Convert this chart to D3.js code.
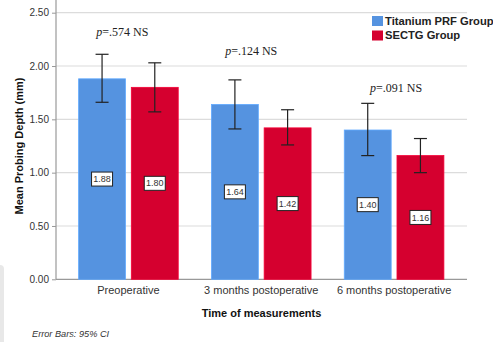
<!DOCTYPE html>
<html><head><meta charset="utf-8">
<script src="https://cdn.jsdelivr.net/npm/d3@7"></script>
<style>body{margin:0;background:#fff}svg{display:block}</style>
</head><body>
<svg id="c" width="493" height="342"></svg>
<script>
const categories = ["Preoperative", "3 months postoperative", "6 months postoperative"];
const seriesNames = ["Titanium PRF Group", "SECTG Group"];
const prfMean = [1.88, 1.64, 1.40];
const prfLow = [1.66, 1.41, 1.16];
const prfHigh = [2.11, 1.87, 1.65];
const sectgMean = [1.80, 1.42, 1.16];
const sectgLow = [1.57, 1.26, 1.00];
const sectgHigh = [2.03, 1.59, 1.32];
const pLabels = ["=.574 NS", "=.124 NS", "=.091 NS"];
const pValuesY = [2.32, 2.14, 1.80];
const yTicks = [0, 0.5, 1.0, 1.5, 2.0, 2.5];
const colors = ["#5593e0", "#d5002f"];

const svg = d3.select("#c");
const L = 56, R = 467, T = 0, B = 279.3;
const y = d3.scaleLinear().domain([0, 2.5]).range([B, 12.7]);
const x0 = d3.scaleBand().domain(categories).range([62, 460.5]).paddingInner(0.25).paddingOuter(0.125);
const x1 = d3.scaleBand().domain(seriesNames).range([0, x0.bandwidth()]).paddingInner(0.11);

// decorative light grey shape
svg.append("rect").attr("x", -8).attr("y", 265).attr("width", 12).attr("height", 90).attr("rx", 4).attr("fill", "#e8e8e8");

// gridlines
svg.append("g").selectAll("line").data(yTicks.filter(d => d > 0)).join("line")
  .attr("x1", L).attr("x2", R).attr("y1", d => y(d)).attr("y2", d => y(d))
  .attr("stroke", "#dcdcdc").attr("stroke-width", 1.2);

// y axis
const yAxis = d3.axisLeft(y).tickValues(yTicks).tickFormat(d3.format(".2f")).tickSize(4).tickPadding(3);
const gy = svg.append("g").attr("transform", `translate(${L},0)`).call(yAxis);
gy.select(".domain").remove();
gy.selectAll(".tick line").attr("stroke", "#999");
gy.selectAll("text").attr("font-family", "Arial, Liberation Sans, sans-serif").attr("font-size", 10).attr("fill", "#333");
svg.append("line").attr("x1", L).attr("x2", L).attr("y1", T).attr("y2", B).attr("stroke", "#999").attr("stroke-width", 1.2);
svg.append("line").attr("x1", L).attr("x2", R).attr("y1", B).attr("y2", B).attr("stroke", "#999").attr("stroke-width", 1.2);

// x axis labels
const xAxis = d3.axisBottom(x0).tickSize(0).tickPadding(7);
const gx = svg.append("g").attr("transform", `translate(0,${B})`).call(xAxis);
gx.select(".domain").remove();
gx.selectAll("text").attr("font-family", "Arial, Liberation Sans, sans-serif").attr("font-size", 11).attr("fill", "#333");

const data = categories.map((c, i) => ({
  c, i,
  vals: [
    {s: seriesNames[0], v: prfMean[i], lo: prfLow[i], hi: prfHigh[i], col: colors[0]},
    {s: seriesNames[1], v: sectgMean[i], lo: sectgLow[i], hi: sectgHigh[i], col: colors[1]}
  ]
}));

const groups = svg.append("g").selectAll("g").data(data).join("g")
  .attr("transform", d => `translate(${x0(d.c)},0)`);

groups.selectAll("rect.bar").data(d => d.vals).join("rect").attr("class", "bar")
  .attr("x", d => x1(d.s)).attr("width", x1.bandwidth())
  .attr("y", d => y(d.v)).attr("height", d => B - y(d.v))
  .attr("fill", d => d.col).attr("stroke", d => d3.color(d.col).brighter(0.4)).attr("stroke-width", 0.8);

// error bars
const eb = groups.selectAll("g.eb").data(d => d.vals).join("g").attr("class", "eb")
  .attr("transform", d => `translate(${x1(d.s) + x1.bandwidth() / 2},0)`);
eb.append("line").attr("x1", 0).attr("x2", 0).attr("y1", d => y(d.hi)).attr("y2", d => y(d.lo)).attr("stroke", "#222").attr("stroke-width", 1.2);
eb.append("line").attr("x1", -6.5).attr("x2", 6.5).attr("y1", d => y(d.hi)).attr("y2", d => y(d.hi)).attr("stroke", "#222").attr("stroke-width", 1.2);
eb.append("line").attr("x1", -6.5).attr("x2", 6.5).attr("y1", d => y(d.lo)).attr("y2", d => y(d.lo)).attr("stroke", "#222").attr("stroke-width", 1.2);

// value labels
const vl = groups.selectAll("g.vl").data(d => d.vals).join("g").attr("class", "vl")
  .attr("transform", d => `translate(${x1(d.s) + x1.bandwidth() / 2},${y(d.v / 2)})`);
vl.append("rect").attr("x", -10.5).attr("y", -7).attr("width", 21).attr("height", 14)
  .attr("fill", "#fff").attr("stroke", "#222").attr("stroke-width", 1);
vl.append("text").attr("text-anchor", "middle").attr("dy", "0.35em")
  .attr("font-family", "Arial, Liberation Sans, sans-serif").attr("font-size", 9).attr("fill", "#333")
  .text(d => d3.format(".2f")(d.v));

// p labels
const pShift = [-6, -10, 2];
const pt = groups.append("text").attr("x", (d, i) => x0.bandwidth() / 2 + pShift[i]).attr("y", (d, i) => y(pValuesY[i]))
  .attr("text-anchor", "middle").attr("dy", "0.35em")
  .attr("font-family", "Times New Roman, Liberation Serif, serif").attr("font-size", 12).attr("fill", "#222");
pt.append("tspan").attr("font-style", "italic").text("p");
pt.append("tspan").text((d, i) => pLabels[i]);

// legend
const lg = svg.append("g").attr("transform", "translate(372,16)");
seriesNames.forEach((s, i) => {
  lg.append("rect").attr("x", 0).attr("y", i * 14.5).attr("width", 11).attr("height", 10).attr("fill", colors[i]);
  lg.append("text").attr("x", 13).attr("y", i * 14.5 + 5).attr("dy", "0.35em")
    .attr("font-family", "Arial, Liberation Sans, sans-serif").attr("font-size", 11.2).attr("font-weight", "bold").attr("fill", "#222").text(s);
});

// axis titles
svg.append("text").attr("x", (L + R) / 2).attr("y", 317).attr("text-anchor", "middle")
  .attr("font-family", "Arial, Liberation Sans, sans-serif").attr("font-size", 11).attr("font-weight", "bold").attr("fill", "#111")
  .text("Time of measurements");
svg.append("text").attr("transform", `translate(23,${(12.7 + B) / 2}) rotate(-90)`).attr("text-anchor", "middle")
  .attr("font-family", "Arial, Liberation Sans, sans-serif").attr("font-size", 11).attr("font-weight", "bold").attr("fill", "#111")
  .text("Mean Probing Depth (mm)");
svg.append("text").attr("x", 32).attr("y", 337)
  .attr("font-family", "Arial, Liberation Sans, sans-serif").attr("font-size", 9.2).attr("font-style", "italic").attr("fill", "#333")
  .text("Error Bars: 95% CI");
</script>
</body></html>
